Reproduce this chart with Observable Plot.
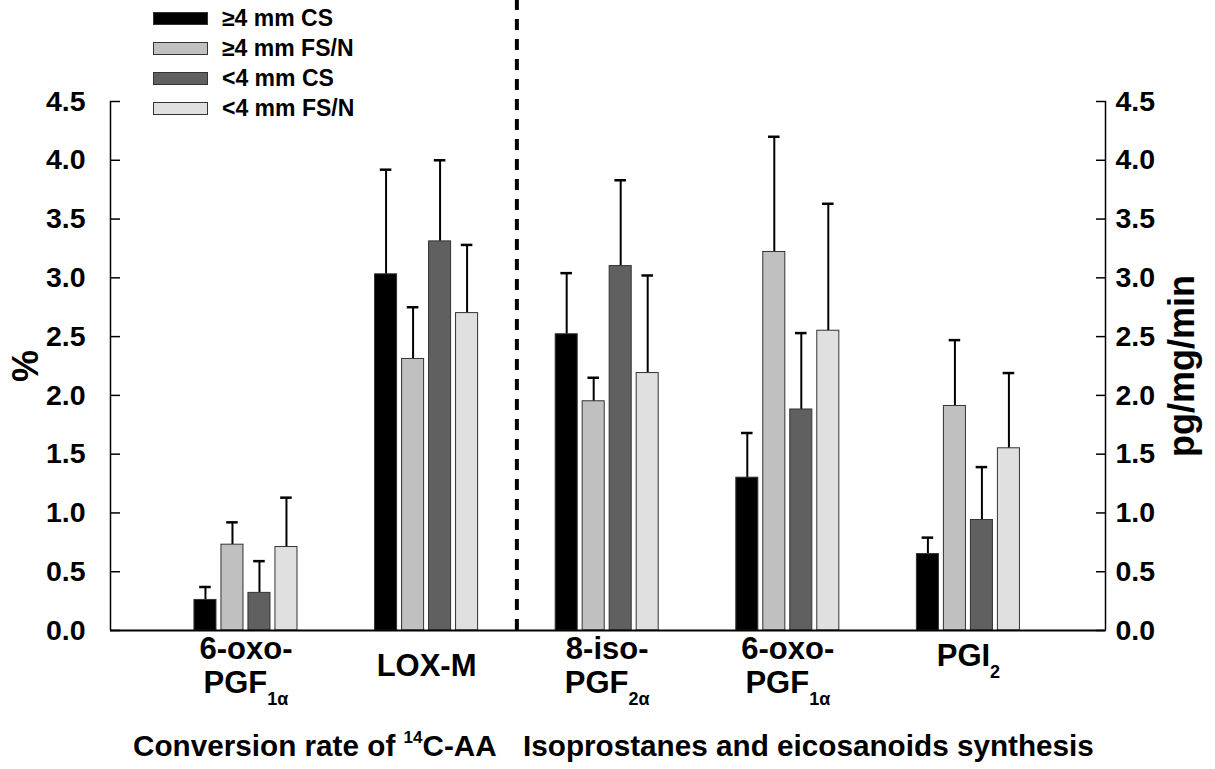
<!DOCTYPE html>
<html>
<head>
<meta charset="utf-8">
<script src="https://cdn.jsdelivr.net/npm/d3@7"></script>
<script src="https://cdn.jsdelivr.net/npm/@observablehq/plot@0.6"></script>
<style>
  html, body { margin: 0; padding: 0; background: #fff; }
  #wrap { position: relative; width: 1215px; height: 769px; font-family: "Liberation Sans", Arial, sans-serif; font-weight: bold; color: #000; }
  #legend { position: absolute; left: 153px; top: 3px; }
  .li { display: flex; align-items: center; height: 30.2px; font-size: 23px; }
  .sw { width: 53px; height: 11px; border: 1px solid #333; margin-right: 14px; }
  .title { position: absolute; top: 730px; font-size: 29.7px; white-space: nowrap; line-height: 32px; }
  .title sup { font-size: 17px; vertical-align: 0; position: relative; top: -13px; }
</style>
</head>
<body>
<div id="wrap">
  <div id="chart"></div>
  <div id="legend"></div>
  <div class="title" id="t1" style="left:133px">Conversion rate of <sup>14</sup>C-AA</div>
  <div class="title" id="t2" style="left:523px">Isoprostanes and eicosanoids synthesis</div>
</div>
<script>
// ---- data ----
const groups = ["6-oxo-\nPGF_{1α}", "LOX-M", "8-iso-\nPGF_{2α}", "6-oxo-\nPGF_{1α}", "PGI_{2}"];
const series = ["≥4 mm CS", "≥4 mm FS/N", "<4 mm CS", "<4 mm FS/N"];
const colors = ["#000000", "#c0c0c0", "#606060", "#e0e0e0"];
// means
const csLarge   = [0.26, 3.03, 2.52, 1.30, 0.65];
const fsnLarge  = [0.73, 2.31, 1.95, 3.22, 1.91];
const csSmall   = [0.32, 3.31, 3.10, 1.88, 0.94];
const fsnSmall  = [0.71, 2.70, 2.19, 2.55, 1.55];
// upper error (SD/SEM)
const csLargeErr  = [0.11, 0.89, 0.52, 0.38, 0.14];
const fsnLargeErr = [0.19, 0.44, 0.20, 0.98, 0.56];
const csSmallErr  = [0.27, 0.69, 0.73, 0.65, 0.45];
const fsnSmallErr = [0.42, 0.58, 0.83, 1.08, 0.64];
const yTicks = [0, 0.5, 1.0, 1.5, 2.0, 2.5, 3.0, 3.5, 4.0, 4.5];

// ---- table ----
const means = [csLarge, fsnLarge, csSmall, fsnSmall];
const errs = [csLargeErr, fsnLargeErr, csSmallErr, fsnSmallErr];
const barStep = 0.1495, barHalf = 0.061, capHalf = 0.032;
const rows = [];
groups.forEach((g, gi) => series.forEach((s, si) => {
  rows.push({gi, series: s, pos: gi + (si - 1.5) * barStep, value: means[si][gi], top: means[si][gi] + errs[si][gi]});
}));
const labels = groups.map((g, gi) => ({gi, label: g}));
const xDomain = [-0.750, 4.759];
const divider = 1.5;

const font = "'Liberation Sans', Arial, Helvetica, sans-serif";
const chart = Plot.plot({
  width: 1215, height: 769,
  marginTop: 101, marginBottom: 139, marginLeft: 110, marginRight: 110,
  style: {fontFamily: font, fontWeight: "bold", fontSize: "28.5px", color: "#000", background: "#fff", overflow: "visible"},
  x: {type: "linear", domain: xDomain, axis: null},
  y: {domain: [0, 4.5], axis: null},
  color: {domain: series, range: colors},
  marks: [
    Plot.ruleX([divider], {y1: 0, y2: 5.36, stroke: "#000", strokeWidth: 4, strokeDasharray: "11,9"}),
    Plot.ruleX(rows, {x: "pos", y1: "value", y2: "top", stroke: "#000", strokeWidth: 2}),
    Plot.ruleY(rows, {y: "top", x1: d => d.pos - capHalf, x2: d => d.pos + capHalf, stroke: "#000", strokeWidth: 2.5}),
    Plot.rectY(rows, {x1: d => d.pos - barHalf, x2: d => d.pos + barHalf, y1: 0, y2: "value", fill: "series", stroke: "#333", strokeWidth: 1}),
    Plot.ruleX(xDomain, {stroke: "#000", strokeWidth: 1.5}),
    Plot.ruleY([0], {stroke: "#000", strokeWidth: 2}),
    Plot.axisY({anchor: "left", ticks: yTicks, tickFormat: d3.format(".1f"), tickSize: -10, tickPadding: 35, strokeWidth: 1.5,
      label: "%", labelAnchor: "center", labelOffset: 98}),
    Plot.axisY({anchor: "right", ticks: yTicks, tickFormat: d3.format(".1f"), tickSize: -10, tickPadding: 20, strokeWidth: 1.5,
      label: "pg/mg/min", labelAnchor: "center", labelOffset: 88}),
    Plot.text(labels.filter(d => d.gi !== 4), {x: "gi", text: "label", frameAnchor: "bottom", dy: 35, lineAnchor: "middle", lineHeight: 1.1, fontSize: 31}),
    Plot.text(labels.filter(d => d.gi === 4), {x: "gi", text: "label", frameAnchor: "bottom", dy: 26, lineAnchor: "middle", fontSize: 31})
  ]
});

// subscripts written as _{...}
chart.querySelectorAll("text, tspan").forEach(el => {
  if (el.children.length) return;
  const m = el.textContent.match(/^(.*)_\{(.*)\}(.*)$/s);
  if (!m) return;
  el.textContent = m[1];
  const sub = document.createElementNS("http://www.w3.org/2000/svg", "tspan");
  sub.setAttribute("font-size", "18");
  sub.setAttribute("baseline-shift", "-12");
  sub.textContent = m[2];
  el.appendChild(sub);
  if (m[3]) el.appendChild(document.createTextNode(m[3]));
});
// axis labels: size, no arrow
chart.querySelectorAll('[aria-label="y-axis label"] text').forEach(t => {
  t.setAttribute("font-size", "36");
  t.textContent = t.textContent.replace(/\s*[←↑→↓]\s*/g, "");
});

document.getElementById("chart").appendChild(chart);

// legend
const leg = d3.select("#legend");
series.forEach((s, i) => {
  const row = leg.append("div").attr("class", "li");
  row.append("div").attr("class", "sw").style("background", colors[i]);
  row.append("span").text(s);
});
</script>
</body>
</html>
